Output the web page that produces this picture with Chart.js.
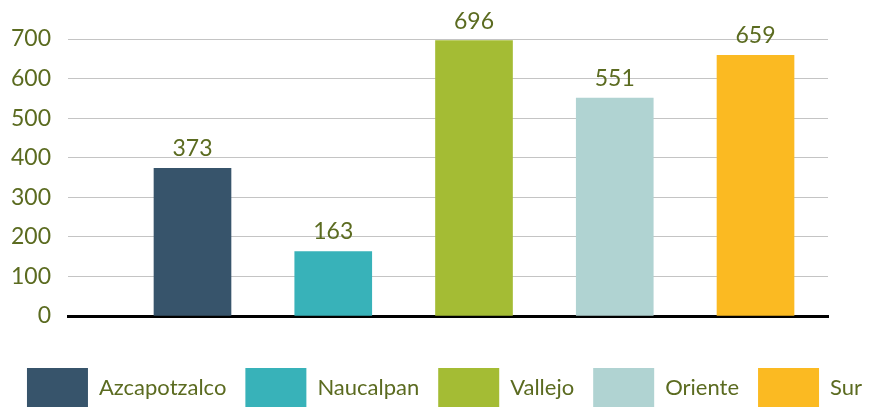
<!DOCTYPE html>
<html>
<head>
<meta charset="utf-8">
<script src="https://cdn.jsdelivr.net/npm/chart.js@4.4.1/dist/chart.umd.min.js"></script>
<style>
  html, body { margin: 0; padding: 0; background: #fff; }
  #wrap { width: 889px; height: 407px; }
</style>
</head>
<body>
<div id="wrap"><canvas id="barChart" width="889" height="407"></canvas></div>
<script>
const regions = ["Azcapotzalco", "Naucalpan", "Vallejo", "Oriente", "Sur"];
const totals = [373, 163, 696, 551, 659];
const barColors = ["#37546b", "#38b2b9", "#a4bc34", "#b0d3d2", "#fbba22"];
const yTicks = [0, 100, 200, 300, 400, 500, 600, 700];

const olive = "#5b6b20";
const fontFamily = "Lato, 'Open Sans', sans-serif";

// value labels above each bar
const valueLabels = {
    id: "valueLabels",
    afterDatasetsDraw(chart) {
        const ctx = chart.ctx;
        ctx.save();
        ctx.fillStyle = olive;
        ctx.font = "23px " + fontFamily;
        ctx.textAlign = "center";
        ctx.textBaseline = "bottom";
        chart.data.datasets.forEach((ds, i) => {
            const bar = chart.getDatasetMeta(i).data[0];
            if (!bar) return;
            ctx.fillText(String(ds.data[0].y), bar.x, bar.y - 8);
        });
        ctx.restore();
    }
};

const datasets = regions.map((name, i) => ({
    label: name,
    data: [{ x: i, y: totals[i] }],
    backgroundColor: barColors[i],
    borderWidth: 0,
    barThickness: 77,
    grouped: false
}));

new Chart(document.getElementById("barChart").getContext("2d"), {
    type: "bar",
    data: { datasets: datasets },
    plugins: [valueLabels],
    options: {
        responsive: false,
        animation: false,
        layout: { padding: { top: 39, right: 0, left: 0, bottom: -10 } },
        plugins: {
            legend: {
                position: "bottom",
                labels: {
                    boxWidth: 61,
                    boxHeight: 39,
                    padding: 19,
                    color: olive,
                    font: { family: fontFamily, size: 22 }
                }
            },
            tooltip: { enabled: false }
        },
        scales: {
            x: {
                type: "linear",
                offset: false,
                min: -0.8845,
                max: 4.515,
                ticks: { display: false },
                grid: { display: false, drawTicks: false },
                border: { display: true, color: "#000", width: 3 },
                afterFit: s => { s.height = 33; }
            },
            y: {
                min: yTicks[0],
                max: yTicks[yTicks.length - 1],
                afterBuildTicks: s => { s.ticks = yTicks.map(v => ({ value: v })); },
                ticks: {
                    color: olive,
                    padding: 17,
                    font: { family: fontFamily, size: 23 }
                },
                grid: { color: "#c4c4c4", lineWidth: 1, drawTicks: false },
                border: { display: false },
                afterFit: s => { s.width = 68; }
            },
            yRight: {
                position: "right",
                display: true,
                ticks: { display: false },
                grid: { display: false, drawTicks: false },
                border: { display: false },
                afterFit: s => { s.width = 61; }
            }
        }
    }
});
</script>
</body>
</html>
